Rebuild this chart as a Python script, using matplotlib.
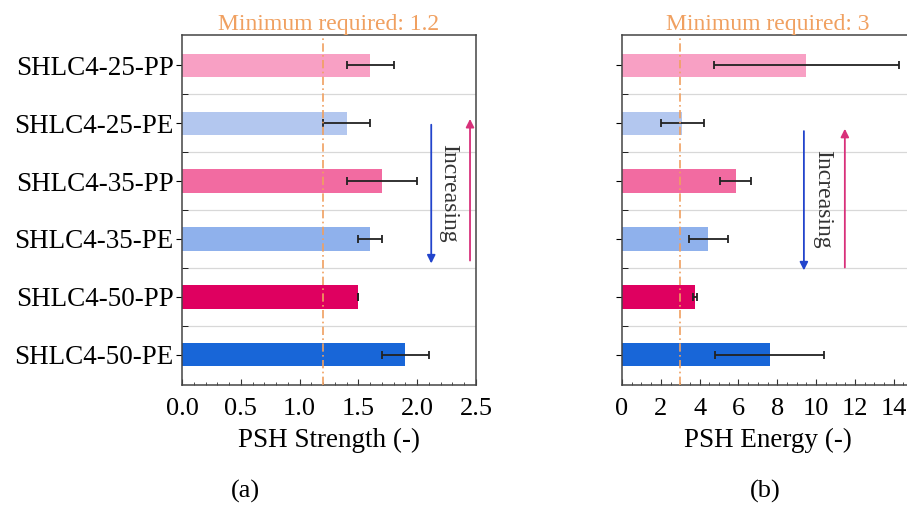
import numpy as np
import matplotlib.pyplot as plt
from matplotlib.ticker import MultipleLocator

plt.rcParams['font.family'] = ['Liberation Serif', 'DejaVu Serif']

labels = ["SHLC4-25-PP", "SHLC4-25-PE", "SHLC4-35-PP", "SHLC4-35-PE", "SHLC4-50-PP", "SHLC4-50-PE"]
colors = ["#f8a0c4", "#b3c7ef", "#f26ba1", "#8fb1ec", "#df0060", "#1866d8"]

strength = [1.6, 1.4, 1.7, 1.6, 1.5, 1.9]
strength_err = [0.2, 0.2, 0.3, 0.1, 0.0, 0.2]
energy = [9.5, 3.1, 5.85, 4.45, 3.75, 7.6]
energy_err = [4.75, 1.1, 0.8, 1.0, 0.1, 2.8]

fig = plt.figure(figsize=(9.07, 5.09), dpi=100)
ax1 = fig.add_axes([0.2007, 0.2436, 0.324, 0.6876])
ax2 = fig.add_axes([0.6858, 0.2436, 0.321, 0.6876])

y = np.arange(len(labels))
orange = "#f0a060"


def panel(ax, vals, errs, thr, title, xmax, major, minor, xlabel, arrows, txt_x):
    ax.barh(y, vals, height=0.4, color=colors, zorder=2)
    ax.errorbar(vals, y, xerr=errs, fmt="none", ecolor="#222222", elinewidth=1.3,
                capsize=3, capthick=1.3, zorder=3)
    ax.axvline(thr, color=orange, linestyle=(0, (5, 2, 1, 2)), lw=1.2, zorder=4)
    ax.set_xlim(0, xmax)
    ax.set_ylim(5.52, -0.52)
    ax.set_yticks(y)
    ax.set_yticks(y[:-1] + 0.5, minor=True)
    ax.grid(axis="y", which="minor", color="#d8d8d8", lw=0.9, zorder=0)
    ax.xaxis.set_major_locator(MultipleLocator(major))
    ax.xaxis.set_minor_locator(MultipleLocator(minor))
    ax.tick_params(axis="x", which="both", direction="in", labelsize=19, color="#333333", pad=9)
    ax.tick_params(axis="x", which="major", length=4)
    ax.tick_params(axis="x", which="minor", length=2.5)
    ax.tick_params(axis="y", which="major", direction="out", length=4, labelsize=19.5, pad=2)
    ax.tick_params(axis="y", which="minor", direction="in", length=4)
    for s in ax.spines.values():
        s.set_color("#444444")
        s.set_linewidth(1.1)
    ax.set_title(title, color=orange, fontsize=17, pad=3)
    ax.set_xlabel(xlabel, fontsize=19.5, labelpad=6)
    (bx, by0, by1), (px, py0, py1) = arrows
    ax.annotate("", xy=(bx, by1), xytext=(bx, by0),
                arrowprops=dict(arrowstyle="-|>", color="#2244cc", lw=1.3, mutation_scale=12))
    ax.annotate("", xy=(px, py1), xytext=(px, py0),
                arrowprops=dict(arrowstyle="-|>", color="#d8307a", lw=1.3, mutation_scale=12))
    ax.text(txt_x, (by0 + by1) / 2 - 0.02, "Increasing", rotation=-90, ha="center", va="center",
            fontsize=17, color="#333333")


panel(ax1, strength, strength_err, 1.2, "Minimum required: 1.2", 2.5, 0.5, 0.1,
      "PSH Strength (-)", ((2.12, 0.98, 3.47), (2.45, 3.42, 0.88)), 2.265)
panel(ax2, energy, energy_err, 3, "Minimum required: 3", 15, 2, 0.5,
      "PSH Energy (-)", ((9.37, 1.09, 3.59), (11.48, 3.54, 1.05)), 10.35)
ax1.set_xticks(np.arange(0, 2.51, 0.5))
ax1.set_xticklabels(["0.0", "0.5", "1.0", "1.5", "2.0", "2.5"])
ax1.set_yticklabels(labels)
ax2.set_xticks(np.arange(0, 15, 2))
ax2.set_yticklabels([])

fig.text(245 / 907, 1 - 491 / 509, "(a)", ha="center", va="center", fontsize=19)
fig.text(765 / 907, 1 - 491 / 509, "(b)", ha="center", va="center", fontsize=19)

fig.savefig("out.png", dpi=100)
